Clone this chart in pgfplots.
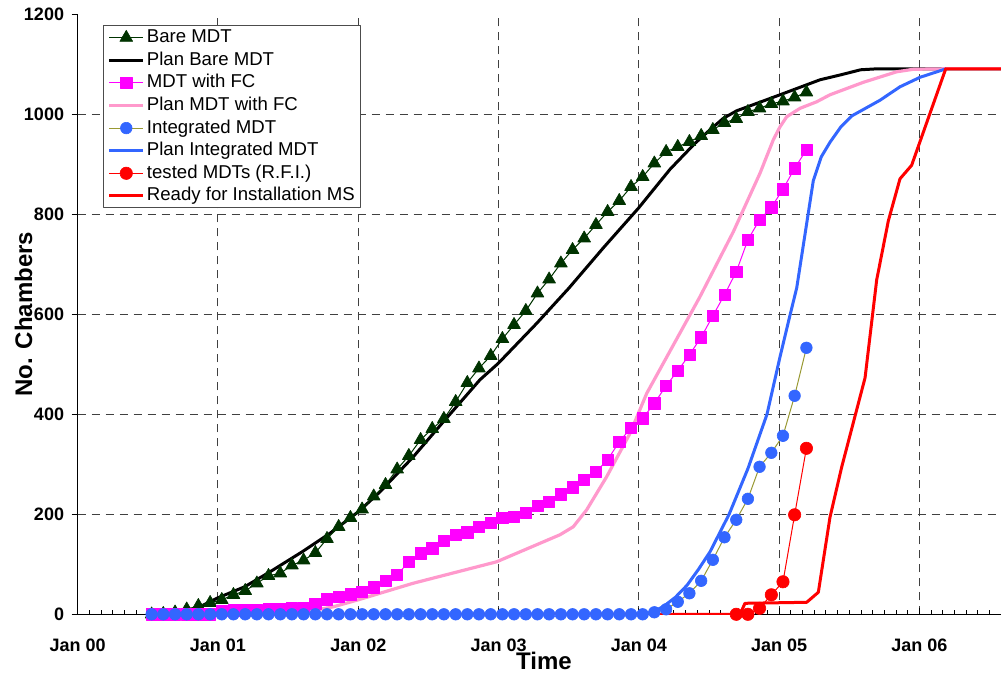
\documentclass[border=0pt]{standalone}
\usepackage{fontspec}
\setmainfont{Liberation Sans}
\usepackage{pgfplots}
\usepackage{pgfplotstable}
\pgfplotsset{compat=1.18}

\definecolor{bare}{RGB}{0,51,0}
\definecolor{fcmag}{RGB}{255,0,255}
\definecolor{fcpink}{RGB}{255,153,204}
\definecolor{intblue}{RGB}{51,102,255}
\definecolor{intolive}{RGB}{153,153,51}
\definecolor{rfired}{RGB}{255,0,0}

\pgfplotstableread{
x bare fc integ
0.527 0 0 0
0.610 1 0 0
0.694 4 0 0
0.777 10 0 0
0.860 17 0 0
0.944 23 0 0
1.027 29 7 0
1.110 39 8 0
1.194 47 9 0
1.277 62 9 0
1.360 77 10 0
1.444 82 10 0
1.527 98 12 0
1.610 108 13 0
1.694 123 21 0
1.777 151 30 0
1.860 175 35 0
1.944 193 40 0
2.027 210 45 0
2.110 236 54 0
2.194 259 67 0
2.277 290 79 0
2.360 317 105 0
2.444 349 122 0
2.527 371 132 0
2.610 391 147 0
2.694 425 159 0
2.777 463 164 0
2.860 492 175 0
2.944 517 183 0
3.027 551 193 0
3.110 579 195 0
3.194 607 203 0
3.277 642 217 0
3.360 670 225 0
3.444 702 240 0
3.527 729 254 0
3.610 752 269 0
3.694 779 285 0
3.777 805 309 0
3.860 827 345 0
3.944 855 373 0
4.027 875 392 0
4.110 902 422 4
4.194 925 457 10
4.277 935 487 25
4.360 945 519 42
4.444 957 554 67
4.527 969 597 109
4.610 983 639 154
4.694 991 685 189
4.777 1005 749 231
4.860 1012 789 295
4.944 1021 814 323
5.027 1026 850 357
5.110 1034 892 437
5.194 1044 929 533
}\measured

\pgfplotstableread{
x rfi
4.694 0
4.777 0
4.860 12
4.944 39
5.027 65
5.110 199
5.194 332
}\tested

\begin{document}
\begin{tikzpicture}
\begin{axis}[
 name=ax,
 scale only axis, width=461.65pt, height=300pt,
 xmin=0, xmax=6.581, ymin=0, ymax=1200,
 axis x line*=bottom, axis y line*=left,
 axis line style={black, line width=0.6pt},
 xtick={0,1,2,3,4,5,6},
 xticklabels={Jan 00,Jan 01,Jan 02,Jan 03,Jan 04,Jan 05,Jan 06},
 minor xtick={0.0833333,0.1666667,...,6.58},
 ytick={0,200,...,1200},
 tick align=inside,
 major tick length=3pt, minor tick length=2pt,
 ytick style={xshift=-3pt, black, line width=0.5pt},
 xtick style={black, line width=0.5pt},
 xmajorgrids=true,
 extra y ticks={200,400,600,800,1000},
 extra y tick labels={},
 extra y tick style={grid=major, tick style={draw=none}},
 major grid style={black!75, line width=0.5pt, dash pattern=on 4pt off 3pt},
 tick label style={font=\bfseries\fontsize{9}{10}\selectfont},
 /pgf/number format/assume math mode=true,
 /pgf/number format/1000 sep={},
 yticklabel style={xshift=-3.3pt},
 xticklabel style={anchor=base, yshift=-18.7pt},
 xlabel={Time}, ylabel={No. Chambers},
 label style={font=\bfseries\fontsize{12}{14}\selectfont},
 xlabel style={at={(axis description cs:0.505,0)}, anchor=base, yshift=-27.85pt},
 ylabel style={at={(axis description cs:-0.0587,0.5)}, anchor=center},
 legend style={at={(axis description cs:0.0274,0.982)}, anchor=north west,
   draw=black!70, line width=0.6pt, fill=white,
   font=\fontsize{9.3}{10}\selectfont,
   inner xsep=2pt, inner ysep=0.5pt, row sep=0.3pt,
   nodes={inner sep=1pt, text height=7pt, text depth=2pt}},
 legend cell align=left,
 line join=round,
]
% plan lines
\addplot[black, line width=1.5pt, forget plot] coordinates {(0.527,0)(0.73,2)(0.85,12)(1.0,33)(1.19,55)(1.371,85)(1.6,125)(1.798,162)(2.0,205)(2.155,245)(2.392,315)(2.6,383)(2.867,469)(2.998,502)(3.272,582)(3.5,652)(3.75,734)(3.996,812)(4.222,890)(4.40,942)(4.507,969)(4.602,992)(4.697,1007)(5.006,1039)(5.291,1069)(5.44,1079)(5.58,1089)(5.7,1091)(6.581,1091)};
\addplot[fcpink, line width=1.6pt, forget plot] coordinates {(0.527,0)(1.45,0)(1.65,6)(1.822,15)(2.0,29)(2.39,62)(2.986,105)(3.437,159)(3.532,175)(3.628,209)(3.77,275)(3.937,362)(4.056,442)(4.435,635)(4.673,765)(4.863,882)(4.958,949)(5.006,975)(5.053,995)(5.149,1012)(5.267,1025)(5.362,1039)(5.6,1064)(5.837,1085)(5.956,1090)(6.187,1091)(6.581,1091)};
\addplot[intblue, line width=1.5pt, forget plot] coordinates {(0.527,0)(4.008,0)(4.09,4)(4.172,15)(4.26,34)(4.343,58)(4.425,90)(4.507,125)(4.643,200)(4.778,292)(4.913,400)(5.006,515)(5.07,590)(5.125,653)(5.184,760)(5.243,867)(5.30,915)(5.362,944)(5.44,975)(5.519,997)(5.718,1028)(5.861,1055)(6.004,1074)(6.19,1091)};
\addplot[rfired, line width=1.5pt, forget plot] coordinates {(0.527,0)(4.721,0)(4.756,22)(5.196,24)(5.279,44)(5.362,194)(5.445,294)(5.612,473)(5.695,669)(5.778,787)(5.861,871)(5.944,898)(6.187,1091)(6.581,1091)};
% measured series
\addplot[bare, line width=0.5pt, mark=triangle*, mark size=3.7pt, mark options={draw=bare, fill=bare, line width=0.3pt}, forget plot] table[x=x, y=bare]{\measured};
\addplot[fcmag, line width=0.5pt, mark=square*, mark size=2.8pt, mark options={draw=fcmag, fill=fcmag, line width=0.3pt}, forget plot] table[x=x, y=fc]{\measured};
\addplot[intolive, line width=0.5pt, mark=*, mark size=2.9pt, mark options={draw=intblue, fill=intblue, line width=0.3pt}, forget plot] table[x=x, y=integ]{\measured};
\addplot[rfired, line width=0.5pt, mark=*, mark size=3.1pt, mark options={draw=rfired, fill=rfired, line width=0.3pt}, forget plot] table[x=x, y=rfi]{\tested};
% legend
\addlegendimage{bare, line width=0.5pt, mark=triangle*, mark size=3.7pt, mark options={draw=bare, fill=bare, line width=0.3pt}}
\addlegendentry{Bare MDT}
\addlegendimage{black, line width=1.5pt}
\addlegendentry{Plan Bare MDT}
\addlegendimage{fcmag, line width=0.5pt, mark=square*, mark size=2.8pt, mark options={draw=fcmag, fill=fcmag, line width=0.3pt}}
\addlegendentry{MDT with FC}
\addlegendimage{fcpink, line width=1.6pt}
\addlegendentry{Plan MDT with FC}
\addlegendimage{intolive, line width=0.5pt, mark=*, mark size=2.9pt, mark options={draw=intblue, fill=intblue, line width=0.3pt}}
\addlegendentry{Integrated MDT}
\addlegendimage{intblue, line width=1.5pt}
\addlegendentry{Plan Integrated MDT}
\addlegendimage{rfired, line width=0.5pt, mark=*, mark size=3.1pt, mark options={draw=rfired, fill=rfired, line width=0.3pt}}
\addlegendentry{tested MDTs (R.F.I.)}
\addlegendimage{rfired, line width=1.5pt}
\addlegendentry{Ready for Installation MS}
\end{axis}
\pgfresetboundingbox
\path[use as bounding box] (ax.south west) ++(-38.85pt,-29.35pt) rectangle ++(500.5pt,336.5pt);
\end{tikzpicture}
\end{document}
